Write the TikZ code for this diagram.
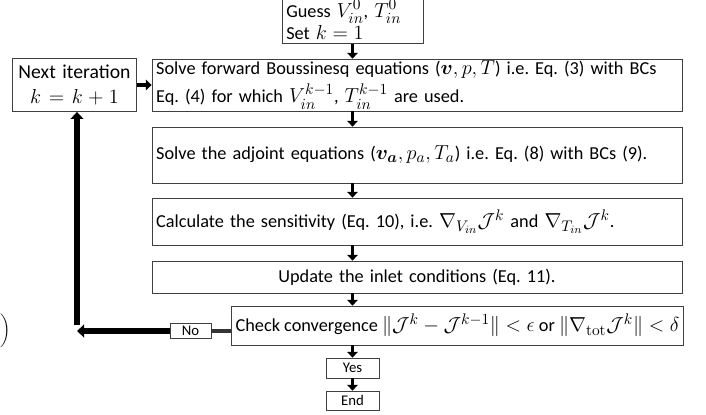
\documentclass[tikz,border=0pt]{standalone}
\usepackage{amsmath,amssymb,bm}
\usepackage[no-math]{fontspec}
\setmainfont{Carlito}
\DeclareMathSizes{13}{15}{10.5}{8}
\frenchspacing
\usetikzlibrary{arrows.meta,positioning,calc}

\begin{document}
\begin{tikzpicture}[
    box/.style={draw=black!75, line width=0.6pt, inner sep=3pt, font=\fontsize{13}{15.5}\selectfont},
    tag/.style={draw=black!75, line width=0.6pt, inner sep=1pt, font=\fontsize{10.5}{12}\selectfont, minimum width=1.325cm},
    arr/.style={-{Triangle[width=7.5pt,length=4pt]}, line width=2.4pt},
    back/.style={-{Triangle[width=9pt,length=5pt]}, line width=3.6pt}
]
\useasboundingbox (0,0) rectangle (17.65,10.35);

\node[box, align=left, text width=3.31cm, minimum height=1.2cm, inner ysep=0pt] (guess) at (8.8125,9.86) {Guess $V_{in}^{0}$, $T_{in}^{0}$\\[0pt]Set $k=1$};
\node[box, align=center, text width=2.91cm, minimum height=1.325cm, font=\fontsize{14}{18}\selectfont] (next) at (1.8625,8.225) {Next iteration\\$k=k+1$};
\node[box, align=left, text width=13.04cm, minimum height=1.3cm, inner ysep=0pt] (fwd) at (10.425,8.225) {Solve forward Boussinesq equations ($\bm{v},p,T$) i.e. Eq. (3) with BCs\\[3pt]Eq. (4) for which $V_{in}^{k-1}$, $T_{in}^{k-1}$ are used.};
\node[box, align=left, text width=13.04cm, minimum height=1.4cm] (adj) at (10.425,6.475) {Solve the adjoint equations ($\bm{v_a},p_a,T_a$) i.e. Eq. (8) with BCs (9).};
\node[box, align=left, text width=13.04cm, minimum height=1.175cm] (sens) at (10.425,4.8125) {Calculate the sensitivity (Eq. 10), i.e. $\nabla_{V_{in}}\mathcal{J}^{k}$ and $\nabla_{T_{in}}\mathcal{J}^{k}$.};
\node[box, align=center, text width=13.04cm, minimum height=0.8cm] (upd) at (10.425,3.425) {Update the inlet conditions (Eq. 11).};
\node[box, minimum width=11.225cm, minimum height=0.975cm] (check) at (11.4375,2.2125) {Check convergence $\|\mathcal{J}^{k}-\mathcal{J}^{k-1}\|<\epsilon$ or $\|\nabla_{\mathrm{tot}}\mathcal{J}^{k}\|<\delta$};
\node[tag, minimum height=0.5cm] (yes) at (8.8125,1.15) {Yes};
\node[tag, minimum height=0.475cm] (end) at (8.8125,0.3375) {End};
\node[tag, minimum width=1.025cm, minimum height=0.375cm] (no) at (4.7625,2.075) {No};
\node[inner sep=0pt] (paren) at (0.14,2.08) {$\bigg)$};
\coordinate (turn) at (1.925,2.225);

% main column
\foreach \a/\b in {guess/fwd, fwd/adj, adj/sens, sens/upd, upd/check}
    \draw[arr] (\a.south -| guess) -- (\b.north -| guess);
\draw[arr] (check.south -| yes) -- (yes);
\draw[arr] (yes) -- (end);
\draw[arr] (next) -- (fwd);

% loop back
\draw[line width=2.6pt, black!80] (no.east) -- (no.east -| check.west);
\draw[back] (no.west) -- (no.west -| turn);
\draw[back] (turn) -- (turn |- next.south);
\end{tikzpicture}
\end{document}
